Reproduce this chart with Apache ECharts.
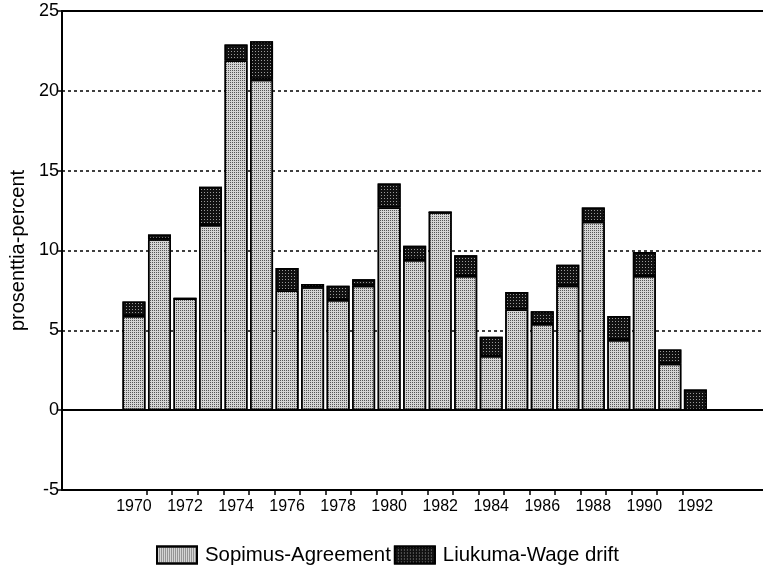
<!DOCTYPE html>
<html>
<head>
<meta charset="utf-8">
<title>Sopimus / liukuma</title>
<script src="https://cdn.jsdelivr.net/npm/echarts@6/dist/echarts.min.js"></script>
<style>
  html, body { margin: 0; padding: 0; background: #fff; }
  #main { width: 763px; height: 569px; }
</style>
</head>
<body>
<div id="main"></div>
<script>
const years = [1970, 1971, 1972, 1973, 1974, 1975, 1976, 1977, 1978, 1979, 1980, 1981,
  1982, 1983, 1984, 1985, 1986, 1987, 1988, 1989, 1990, 1991, 1992];
const agreement = [5.9, 10.7, 7.0, 11.6, 21.9, 20.7, 7.5, 7.7, 6.9, 7.8, 12.7, 9.4,
  12.4, 8.4, 3.4, 6.3, 5.4, 7.8, 11.8, 4.4, 8.4, 2.9, 0];
const wageDrift = [0.9, 0.3, 0, 2.4, 1.0, 2.4, 1.4, 0.2, 0.9, 0.4, 1.5, 0.9,
  0, 1.3, 1.2, 1.1, 0.8, 1.3, 0.9, 1.5, 1.5, 0.9, 1.3];
const labelYears = [1970, 1972, 1974, 1976, 1978, 1980, 1982, 1984, 1986, 1988, 1990, 1992];
const tickYears = [1970.5, 1971.5, 1972.5, 1973.5, 1974.5, 1975.5, 1976.5, 1977.5, 1978.5,
  1979.5, 1980.5, 1981.5, 1982.5, 1983.5, 1984.5, 1985.5, 1986.5, 1987.5, 1988.5,
  1989.5, 1990.5, 1991.5];

const font = "'Liberation Sans', Arial, Helvetica, sans-serif";

const chart = echarts.init(document.getElementById('main'), null, { renderer: 'canvas' });

// dotted screen look of the printed bars
const lightDecal = {
  symbol: 'rect', symbolSize: 1, color: '#555',
  dashArrayX: [1, 1], dashArrayY: [1, 1], rotation: 0
};
const darkDecal = {
  symbol: 'rect', symbolSize: 1, color: '#9a9a9a',
  dashArrayX: [1, 2], dashArrayY: [1, 2], rotation: 0
};

// value first, year second: the stack then runs on the y values
const toPoints = (vals) => vals.map((v, i) => [v, years[i]]);

const option = {
  animation: false,
  textStyle: { fontFamily: font, color: '#000' },
  grid: { left: 62, right: 0, top: 11, bottom: 79 },
  legend: {
    left: 151,
    top: 540,
    icon: 'rect',
    itemWidth: 40,
    itemHeight: 17,
    itemGap: 3,
    textStyle: { fontSize: 20.4, color: '#000', fontFamily: font, padding: [0, 0, 0, 3] },
    data: ['Sopimus-Agreement', 'Liukuma-Wage drift']
  },
  xAxis: [
    {
      type: 'value',
      position: 'bottom',
      min: 1967.18,
      max: 1994.65,
      axisLine: { show: true, onZero: false, lineStyle: { color: '#000', width: 2 } },
      axisTick: { show: true, customValues: tickYears, length: 5, lineStyle: { color: '#000', width: 1.5 } },
      axisLabel: {
        customValues: labelYears, fontSize: 16, color: '#000', margin: 9, fontFamily: font,
        formatter: (v) => String(v)
      },
      splitLine: { show: false }
    },
    {
      type: 'value',
      position: 'top',
      min: 1967.18,
      max: 1994.65,
      axisLine: { show: true, onZero: false, lineStyle: { color: '#000', width: 2 } },
      axisTick: { show: false },
      axisLabel: { show: false },
      splitLine: { show: false }
    }
  ],
  yAxis: {
    type: 'value',
    min: -5,
    max: 25,
    interval: 5,
    name: 'prosenttia-percent',
    nameLocation: 'middle',
    nameGap: 31,
    nameTextStyle: { fontSize: 20, color: '#000', fontFamily: font },
    axisLine: { show: true, lineStyle: { color: '#000', width: 2 } },
    axisTick: { show: true, length: 5, lineStyle: { color: '#000', width: 1.5 } },
    axisLabel: { fontSize: 18, color: '#000', margin: 3, fontFamily: font },
    splitLine: { show: true, lineStyle: { color: '#000', width: 1.5, type: [3, 3] } }
  },
  series: [
    {
      name: 'Sopimus-Agreement',
      type: 'bar',
      stack: 'total',
      barWidth: 23,
      encode: { x: 1, y: 0 },
      data: toPoints(agreement),
      itemStyle: { color: '#d4d4d4', borderColor: '#000', borderWidth: 1.5, decal: lightDecal },
      markLine: {
        silent: true,
        symbol: ['none', 'none'],
        label: { show: false },
        lineStyle: { color: '#000', width: 2, type: 'solid' },
        data: [{ yAxis: 0 }]
      }
    },
    {
      name: 'Liukuma-Wage drift',
      type: 'bar',
      stack: 'total',
      barWidth: 23,
      encode: { x: 1, y: 0 },
      data: toPoints(wageDrift),
      itemStyle: { color: '#111111', borderColor: '#000', borderWidth: 1.5, decal: darkDecal }
    }
  ]
};

chart.setOption(option);
</script>
</body>
</html>
